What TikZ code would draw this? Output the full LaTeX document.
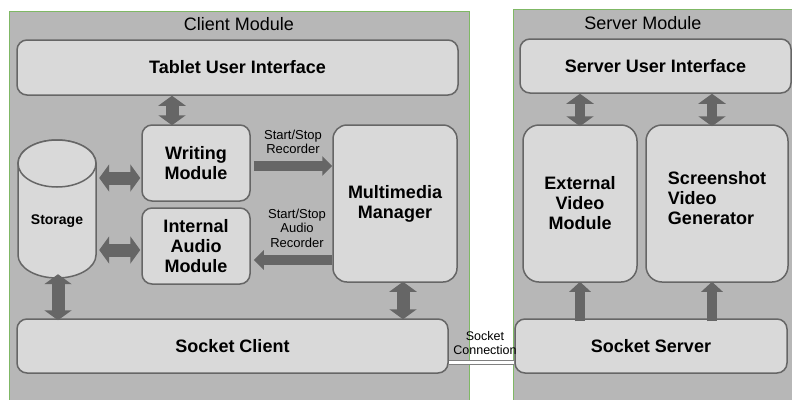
\documentclass[tikz,border=0pt]{standalone}
\usepackage{fontspec}
\setmainfont{Liberation Sans}
\usetikzlibrary{arrows.meta}
\definecolor{panelgray}{HTML}{B7B7B7}
\definecolor{panelgreen}{HTML}{7FB865}
\definecolor{boxfill}{HTML}{D9D9D9}
\definecolor{boxline}{HTML}{666666}
\definecolor{arrowgray}{HTML}{666666}

\begin{document}
\begin{tikzpicture}[x=1pt,y=-1pt,
  panel/.style={draw=panelgreen,fill=panelgray,line width=1pt},
  box/.style={draw=boxline,fill=boxfill,line width=1.5pt,rounded corners=10pt,inner sep=0pt,align=center,font=\bfseries\fontsize{18}{20}\selectfont},
  title/.style={font=\fontsize{18}{20}\selectfont},
  small/.style={font=\fontsize{13}{14.5}\selectfont,align=center,inner sep=0pt},
  dbl/.style={arrowgray,line width=13pt,{Triangle[width=27pt,length=10pt]}-{Triangle[width=27pt,length=10pt]}},
  dblthin/.style={arrowgray,line width=10pt,{Triangle[width=27pt,length=10pt]}-{Triangle[width=27pt,length=10pt]}},
  sig/.style={arrowgray,line width=10pt,-{Triangle[width=19pt,length=10pt]}}]
\useasboundingbox (0,0) rectangle (792,399);
\clip (0,0) rectangle (792,399);
\fill[white] (0,0) rectangle (792,399);
% the two modules
\draw[panel] (9,11) rectangle (469,410);
\draw[panel] (513,9) rectangle (800,410);
\node[title] (cmtitle) at (239,24) {Client Module};
\node[title] (smtitle) at (643,23) {Server Module};

% client side
\node[box,minimum width=441pt,minimum height=55pt] (tui) at (237.5,67.5) {Tablet User Interface};
\node[box,minimum width=108pt,minimum height=76pt] (wrt) at (196,163) {Writing\\Module};
\node[box,minimum width=108pt,minimum height=76pt] (aud) at (196,246) {Internal\\Audio\\Module};
\node[box,rounded corners=14pt,minimum width=124pt,minimum height=157pt] (mm) at (395,203.5) {Multimedia\\Manager};
\node[box,minimum width=431pt,minimum height=54pt] (sc) at (232.5,346) {Socket Client};
% storage cylinder
\node[minimum width=84pt,minimum height=138pt,inner sep=0pt] (sto) at (57,209) {};
\draw[draw=boxline,fill=boxfill,line width=1.5pt] (18,163.5) -- (18,255) arc[start angle=180,end angle=0,x radius=39,y radius=23] -- (96,163.5) arc[start angle=0,end angle=-180,x radius=39,y radius=23.5] -- cycle;
\draw[draw=boxline,fill=boxfill,line width=1.5pt] (57,163.5) ellipse[x radius=39,y radius=23.5];
\node[font=\bfseries\fontsize{14}{16}\selectfont] (stolbl) at (57,221) {Storage};

% server side
\node[box,minimum width=271pt,minimum height=54pt] (sui) at (655.5,66) {Server User Interface};
\node[box,rounded corners=16pt,minimum width=114pt,minimum height=157pt] (evm) at (580,203.5) {External\\Video\\Module};
\node[box,rounded corners=16pt,align=left,minimum width=142pt,minimum height=157pt] (svg) at (717,203.5) {Screenshot\\Video\\Generator\\[-9pt]\mbox{}};
\node[box,minimum width=272pt,minimum height=54pt] (ss) at (651,346) {Socket Server};

% arrow positions
\coordinate (ax1) at (172,0);
\coordinate (ax2) at (58,0);
\coordinate (ax3) at (403,0);
\coordinate (ax4) at (712,0);
\coordinate (ay1) at (0,178);
\coordinate (ay2) at (0,250);
\coordinate (ay3) at (0,166);
\coordinate (ay4) at (0,260);
\coordinate (ay5) at (0,362);

\draw[dbl] (tui.south -| ax1) -- ([yshift=-1pt]wrt.north -| ax1);
\draw[dbl] (sto.east |- ay1) -- ([xshift=-1pt]wrt.west |- ay1);
\draw[dbl] (sto.east |- ay2) -- ([xshift=-1pt]aud.west |- ay2);
\draw[dbl] ([yshift=4pt]sto.south -| ax2) -- ([yshift=-2pt]sc.north -| ax2);
\draw[dbl] ([yshift=1pt]mm.south -| ax3) -- ([yshift=-1pt]sc.north -| ax3);
\draw[sig] ([xshift=3pt]wrt.east |- ay3) -- (mm.west |- ay3);
\draw[sig] (mm.west |- ay4) -- ([xshift=3pt]aud.east |- ay4);
\node[small] (lbl1) at (293,142) {Start/Stop\\Recorder};
\node[small] (lbl2) at (297,228) {Start/Stop\\Audio\\Recorder};

\draw[dblthin] (sui.south -| evm) -- ([yshift=-2pt]evm.north);
\draw[dblthin] (sui.south -| ax4) -- ([yshift=-2pt]svg.north -| ax4);
\draw[sig,-{Triangle[width=21pt,length=10pt]}] ([yshift=-3pt]ss.north -| evm) -- ([yshift=1pt]evm.south);
\draw[sig,-{Triangle[width=21pt,length=10pt]}] ([yshift=-3pt]ss.north -| ax4) -- ([yshift=1pt]svg.south -| ax4);

% socket connection
\draw[draw=gray,line width=1pt,double=white,double distance=3pt] (sc.east |- ay5) -- (ss.west |- ay5);
\node[small,font=\fontsize{12.5}{14.5}\selectfont] (conn) at (485,343) {Socket\\Connection};
\end{tikzpicture}
\end{document}
